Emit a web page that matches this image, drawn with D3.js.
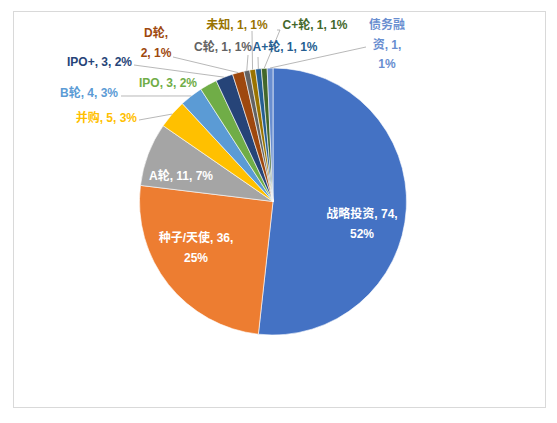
<!DOCTYPE html>
<html>
<head>
<meta charset="utf-8">
<script src="https://cdn.jsdelivr.net/npm/d3@7"></script>
<style>
body { margin: 0; background: #fff; }
text { font-family: "Liberation Sans", Arial, "Noto Sans CJK SC", sans-serif; font-size: 12px; }
</style>
</head>
<body>
<svg id="chart" width="557" height="423"></svg>
<script>
// data
var categories = ["战略投资", "种子/天使", "A轮", "并购", "B轮", "IPO", "IPO+", "D轮", "C轮", "未知", "A+轮", "C+轮", "债务融资"];
var values = [74, 36, 11, 5, 4, 3, 3, 2, 1, 1, 1, 1, 1];
var pctLabels = ["52%", "25%", "7%", "3%", "3%", "2%", "2%", "1%", "1%", "1%", "1%", "1%", "1%"];
var colors = ["#4472C4", "#ED7D31", "#A5A5A5", "#FFC000", "#5B9BD5", "#70AD47", "#264478", "#9E480E", "#636363", "#997300", "#255E91", "#43682B", "#698ED0"];

// label layout: lines of text, x, first baseline y, anchor, colour, leader start
var labelLayout = [
  {lines: [0, 1], x: 362, y: 218, anchor: "middle", fill: "#fff", split: "cat,val|pct"},
  {lines: [0, 1], x: 196, y: 242, anchor: "middle", fill: "#fff", split: "cat,val|pct"},
  {x: 181, y: 180, anchor: "middle", fill: "#fff", split: "all"},
  {x: 137, y: 122, anchor: "end", split: "all", lead: [139, 120]},
  {x: 118, y: 97, anchor: "end", split: "all", lead: [121, 96]},
  {x: 168, y: 87, anchor: "middle", split: "all"},
  {x: 132, y: 66, anchor: "end", split: "all", lead: [134, 65]},
  {x: 156, y: 37, anchor: "middle", split: "cat|val,pct", lead: [173, 57]},
  {x: 223, y: 51, anchor: "middle", split: "all", lead: [248, 55]},
  {x: 237, y: 29, anchor: "middle", split: "all", lead: [252, 31]},
  {x: 285, y: 51, anchor: "middle", split: "all", lead: [258, 57]},
  {x: 315, y: 29, anchor: "middle", split: "all", lead: [280, 30], lead2: [277, 30]},
  {x: 387, y: 29, anchor: "middle", split: "cat3", lead: [366, 47]}
];

var svg = d3.select("#chart");

// chart frame
svg.append("rect")
  .attr("x", 13.5).attr("y", 11.5)
  .attr("width", 532).attr("height", 396)
  .attr("fill", "#fff").attr("stroke", "#d9d9d9");

var cx = 273, cy = 201.5, r = 133.5;
var g = svg.append("g").attr("transform", "translate(" + cx + "," + cy + ")");

var pie = d3.pie().sort(null).value(d => d.value);
var arcs = pie(categories.map((c, i) => ({cat: c, value: values[i], pct: pctLabels[i], color: colors[i]})));

var arc = d3.arc().innerRadius(0).outerRadius(r);
var edge = d3.arc().innerRadius(r).outerRadius(r);

g.selectAll("path.slice")
  .data(arcs)
  .enter().append("path")
  .attr("class", "slice")
  .attr("d", arc)
  .attr("fill", d => d.data.color)
  .attr("stroke", "#fff")
  .attr("stroke-width", 0.6);

// leader lines
arcs.forEach(function(d, i) {
  var lay = labelLayout[i];
  if (!lay.lead) return;
  var p = edge.centroid(d);
  var pts = [];
  if (lay.lead2) pts.push(lay.lead2);
  pts.push(lay.lead);
  pts.push([p[0] + cx, p[1] + cy]);
  svg.append("path")
    .attr("d", d3.line()(pts))
    .attr("fill", "none")
    .attr("stroke", "#a6a6a6")
    .attr("stroke-width", 0.8);
});

// labels
arcs.forEach(function(d, i) {
  var lay = labelLayout[i];
  var c = d.data.cat, v = d.data.value, p = d.data.pct;
  var rows;
  if (lay.split === "cat,val|pct") rows = [c + ", " + v + ",", p];
  else if (lay.split === "cat|val,pct") rows = [c + ",", v + ", " + p];
  else if (lay.split === "cat3") rows = [c.slice(0, 3), c.slice(3) + ", " + v + ",", p];
  else rows = [c + ", " + v + ", " + p];
  var t = svg.append("text")
    .attr("text-anchor", lay.anchor)
    .attr("fill", lay.fill || d.data.color)
    .style("font-weight", "bold");
  rows.forEach(function(s, k) {
    t.append("tspan").attr("x", lay.x).attr("y", lay.y + k * 19.5).text(s);
  });
});
</script>
</body>
</html>
